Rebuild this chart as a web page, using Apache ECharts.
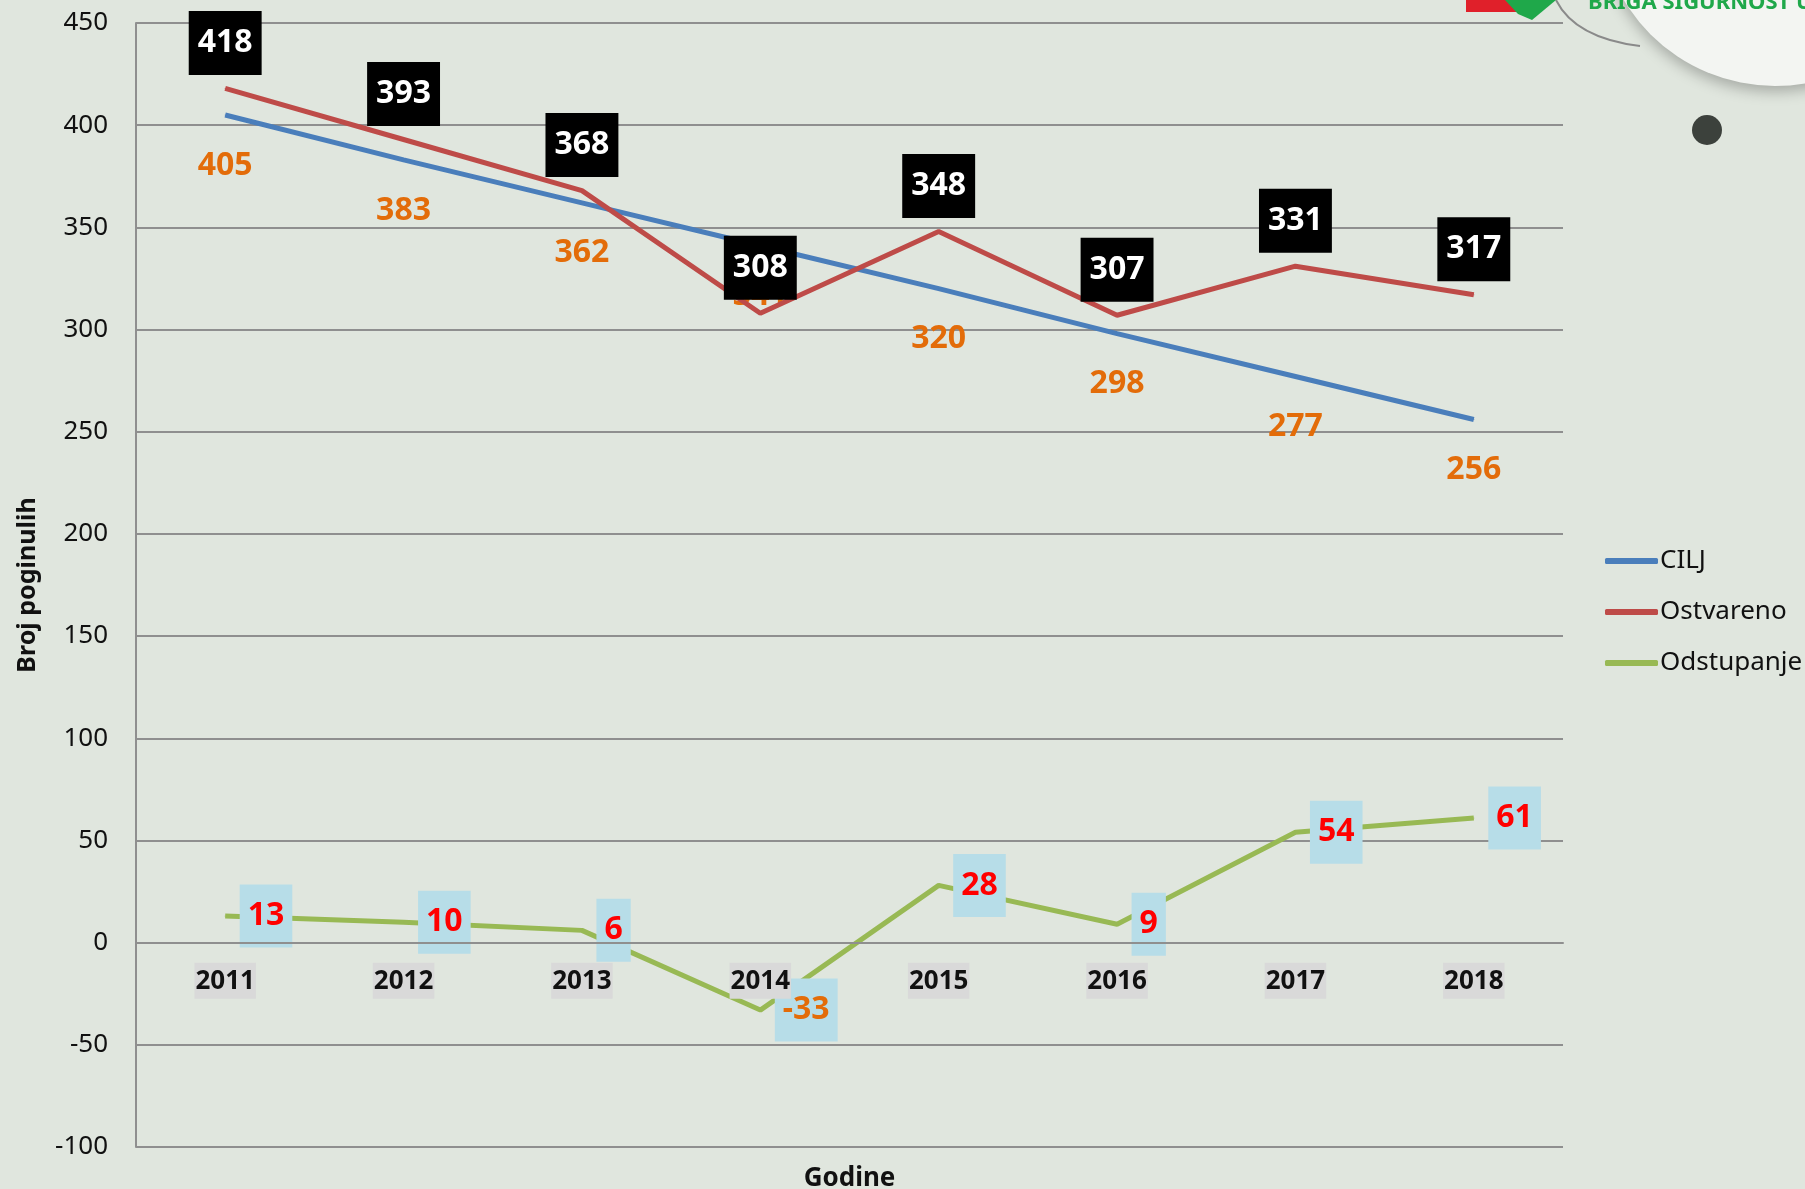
<!DOCTYPE html>
<html>
<head>
<meta charset="utf-8">
<script src="https://cdn.jsdelivr.net/npm/echarts@6/dist/echarts.min.js"></script>
<style>
html,body{margin:0;padding:0;background:#e0e6de;}
#chart{width:1805px;height:1189px;}
</style>
</head>
<body>
<div id="chart"></div>
<script>
const years = ['2011','2012','2013','2014','2015','2016','2017','2018'];
const cilj = [405, 383, 362, 341, 320, 298, 277, 256];
const ostvareno = [418, 393, 368, 308, 348, 307, 331, 317];
const odstupanje = [13, 10, 6, -33, 28, 9, 54, 61];
const seriesNames = ['CILJ', 'Ostvareno', 'Odstupanje'];
const yTicks = { min: -100, max: 450, step: 50 };

const FONT = 'Noto Sans';
const GRID = { left: 136, right: 242, top: 23, bottom: 42 };
const W = 1805, H = 1189;
const plotH = H - GRID.top - GRID.bottom;
// distance of the zero line above the bottom of the plot, from the y scale
const zeroOffset = (0 - yTicks.min) / (yTicks.max - yTicks.min) * plotH;

const chart = echarts.init(document.getElementById('chart'), null, {renderer: 'canvas'});

const odstData = odstupanje.map(v => v < 0
  ? { value: v, label: { color: '#e36c09' } }
  : v);

chart.setOption({
  backgroundColor: '#e0e6de',
  animation: false,
  textStyle: { fontFamily: FONT },
  grid: Object.assign({ containLabel: false, outerBoundsMode: 'none' }, GRID),
  legend: {
    orient: 'vertical',
    left: 1600,
    top: 541,
    itemWidth: 53,
    itemHeight: 6,
    itemGap: 21,
    icon: 'roundRect',
    textStyle: { fontFamily: FONT, fontSize: 26, color: '#111', lineHeight: 30, padding: [0,0,0,-3] },
    data: seriesNames
  },
  xAxis: {
    type: 'category',
    data: years,
    z: 10,
    position: 'bottom',
    offset: -zeroOffset,
    boundaryGap: true,
    axisLine: { onZero: false, lineStyle: { color: '#8f8f8f', width: 2 } },
    axisTick: { show: false },
    axisLabel: {
      margin: 20,
      fontFamily: FONT,
      fontSize: 26,
      fontWeight: 'bold',
      color: '#111',
      backgroundColor: '#d9d9d9',
      padding: [4, 1, 3, 1],
      lineHeight: 29
    },
    name: 'Godine',
    nameLocation: 'middle',
    nameGap: 223,
    nameTextStyle: { fontFamily: FONT, fontSize: 26, fontWeight: 'bold', color: '#111' }
  },
  yAxis: {
    type: 'value',
    min: yTicks.min,
    max: yTicks.max,
    interval: yTicks.step,
    axisLine: { show: true, onZero: false, lineStyle: { color: '#8f8f8f', width: 2 } },
    axisTick: { show: false },
    axisLabel: { margin: 28, fontFamily: FONT, fontSize: 26, color: '#111' },
    splitLine: { lineStyle: { color: '#8f8f8f', width: 2 } },
    name: 'Broj poginulih',
    nameLocation: 'middle',
    nameGap: 96,
    nameTextStyle: { fontFamily: FONT, fontSize: 25, fontWeight: 'bold', color: '#111' }
  },
  series: [
    {
      name: seriesNames[0],
      type: 'line',
      data: cilj,
      z: 2,
      symbol: 'circle',
      symbolSize: 1,
      showSymbol: true,
      lineStyle: { color: '#4a7ebb', width: 5 },
      itemStyle: { color: '#4a7ebb' },
      label: {
        show: true, position: 'bottom', distance: 34,
        fontFamily: FONT, fontSize: 32, fontWeight: 'bold', color: '#e36c09'
      }
    },
    {
      name: seriesNames[1],
      type: 'line',
      data: ostvareno,
      z: 3,
      symbol: 'circle',
      symbolSize: 1,
      showSymbol: true,
      lineStyle: { color: '#be4b48', width: 5 },
      itemStyle: { color: '#be4b48' },
      label: {
        show: true, position: 'top', distance: 13,
        fontFamily: FONT, fontSize: 32, fontWeight: 'bold', color: '#fff',
        backgroundColor: '#000', padding: [16, 9, 16, 9], lineHeight: 32
      }
    },
    {
      name: seriesNames[2],
      type: 'line',
      data: odstData,
      z: 4,
      symbol: 'circle',
      symbolSize: 1,
      showSymbol: true,
      lineStyle: { color: '#98b954', width: 5 },
      itemStyle: { color: '#98b954' },
      label: {
        show: true, position: 'right', distance: 14,
        fontFamily: FONT, fontSize: 32, fontWeight: 'bold', color: '#ff0000',
        backgroundColor: '#b7dde8', padding: [16, 8, 15, 8], lineHeight: 32
      }
    }
  ],
  graphic: [
    { type: 'circle', z: 100, shape: { cx: 1775, cy: -90, r: 176 },
      style: { fill: '#f3f5f2', shadowBlur: 14, shadowColor: 'rgba(0,0,0,0.25)', shadowOffsetY: 6 } },
    { type: 'bezierCurve', z: 99, shape: { x1: 1556, y1: 0, cpx1: 1575, cpy1: 38, x2: 1640, y2: 46 },
      style: { stroke: '#8a8a8a', lineWidth: 2, fill: null } },
    { type: 'circle', z: 100, shape: { cx: 1707, cy: 130, r: 15 },
      style: { fill: '#3c413c' } },
    { type: 'rect', z: 100, shape: { x: 1466, y: 0, width: 52, height: 12 },
      style: { fill: '#e0202a' } },
    { type: 'polygon', z: 101, shape: { points: [[1505,0],[1556,0],[1532,20],[1518,14]] },
      style: { fill: '#1fa84a' } },
    { type: 'text', z: 101, left: 1588, top: -8,
      style: { text: 'BRIGA SIGURNOST U PROMETU', fill: '#1fa84a', font: 'bold 22px "Liberation Sans Narrow", "Noto Sans"' } }
  ]
});
</script>
</body>
</html>
